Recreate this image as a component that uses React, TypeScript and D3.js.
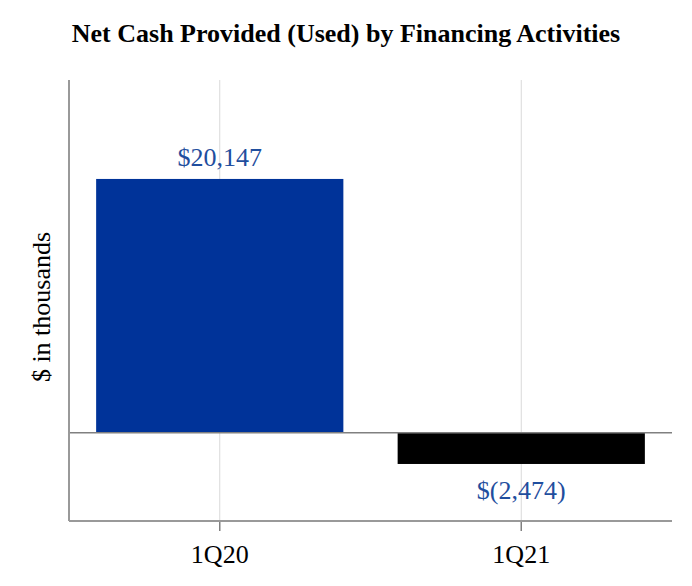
import React from "react";
import * as d3 from "d3";

const categories = ["1Q20", "1Q21"];
const values = [20147, -2474];
const yDomain = [-7000, 28000];
const title = "Net Cash Provided (Used) by Financing Activities";
const yLabel = "$ in thousands";

const W = 692;
const H = 586;
const M = { left: 69, right: 20, top: 80, bottom: 65 };
const FONT = "'Liberation Serif', 'Times New Roman', serif";

export default function App() {
  const x = d3
    .scaleBand<string>()
    .domain(categories)
    .range([M.left, W - M.right])
    .paddingInner(0.18)
    .paddingOuter(0.09);
  const y = d3.scaleLinear().domain(yDomain).range([H - M.bottom, M.top]);
  const y0 = y(0);
  const fmt = d3.format(",");
  const label = (v: number) => (v < 0 ? `$(${fmt(-v)})` : `$${fmt(v)}`);
  const colors = ["#003399", "#000000"];

  return (
    <svg
      width={W}
      height={H}
      style={{ position: "absolute", left: 0, top: 0, background: "#fff" }}
      fontFamily={FONT}
    >
      <text x={W / 2} y={42} textAnchor="middle" fontSize={26} fontWeight="bold" fill="#000">
        {title}
      </text>
      {/* gridlines */}
      {categories.map((c) => {
        const cx = (x(c) as number) + x.bandwidth() / 2;
        return (
          <g key={"g" + c}>
            <line x1={cx} x2={cx} y1={M.top} y2={H - M.bottom} stroke="#d9d9d9" strokeWidth={1} />
            <line x1={cx} x2={cx} y1={H - M.bottom} y2={H - M.bottom + 10} stroke="#808080" strokeWidth={1.5} />
            <text x={cx} y={H - M.bottom + 42} textAnchor="middle" fontSize={26} fill="#000">
              {c}
            </text>
          </g>
        );
      })}
      {/* bars */}
      {values.map((v, i) => {
        const c = categories[i];
        const bx = x(c) as number;
        const top = Math.min(y(v), y0);
        const h = Math.abs(y(v) - y0);
        const cx = bx + x.bandwidth() / 2;
        const ly = v >= 0 ? y(v) - 13 : y(v) + 35;
        return (
          <g key={c}>
            <rect x={bx} y={top} width={x.bandwidth()} height={h} fill={colors[i]} />
            <text x={cx} y={ly} textAnchor="middle" fontSize={26} fill="#1f4e9e">
              {label(v)}
            </text>
          </g>
        );
      })}
      {/* zero line */}
      <line x1={M.left} x2={W - M.right} y1={y0} y2={y0} stroke="#808080" strokeWidth={1.5} />
      {/* axes */}
      <line x1={M.left} x2={M.left} y1={M.top} y2={H - M.bottom} stroke="#999" strokeWidth={2} />
      <line x1={M.left} x2={W - M.right} y1={H - M.bottom} y2={H - M.bottom} stroke="#999" strokeWidth={2} />
      <text
        transform={`translate(50, 307) rotate(-90)`}
        textAnchor="middle"
        fontSize={26}
        fill="#000"
      >
        {yLabel}
      </text>
    </svg>
  );
}
